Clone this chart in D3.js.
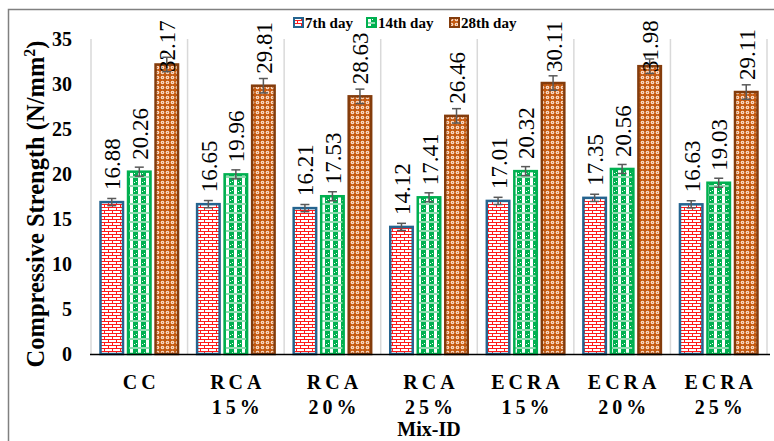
<!DOCTYPE html>
<html>
<head>
<meta charset="utf-8">
<script src="https://cdn.jsdelivr.net/npm/d3@7"></script>
<style>
body { margin:0; background:#fff; }
</style>
</head>
<body>
<div id="chart"></div>
<script>
// values
var categories = ["CC", "RCA 15%", "RCA 20%", "RCA 25%", "ECRA 15%", "ECRA 20%", "ECRA 25%"];
var seriesNames = ["7th day", "14th day", "28th day"];
var day7 = [16.88, 16.65, 16.21, 14.12, 17.01, 17.35, 16.63];
var day14 = [20.26, 19.96, 17.53, 17.41, 20.32, 20.56, 19.03];
var day28 = [32.17, 29.81, 28.63, 26.46, 30.11, 31.98, 29.11];
var err7 = [0.4, 0.4, 0.4, 0.4, 0.4, 0.4, 0.4];
var err14 = [0.5, 0.5, 0.5, 0.5, 0.5, 0.5, 0.5];
var err28 = [0.8, 0.8, 0.8, 0.8, 0.8, 0.8, 0.8];
var yTicks = [0, 5, 10, 15, 20, 25, 30, 35];

var FONT = "Liberation Serif";
var W = 774, H = 441;
var svg = d3.select("#chart").append("svg").attr("width", W).attr("height", H)
	.attr("font-family", FONT);
var defs = svg.append("defs");

// brick pattern (7th day)
var pBrick = defs.append("pattern").attr("id", "pBrick").attr("patternUnits", "userSpaceOnUse")
	.attr("width", 8).attr("height", 6);
pBrick.append("rect").attr("width", 8).attr("height", 6).attr("fill", "#fff");
pBrick.append("path").attr("d", "M0,0.5H8M0,3.5H8M0.5,0.5V3.5M4.5,3.5V6.5")
	.attr("stroke", "#ff1a1a").attr("stroke-width", 1).attr("fill", "none");

// plaid pattern (14th day)
var pPlaid = defs.append("pattern").attr("id", "pPlaid").attr("patternUnits", "userSpaceOnUse")
	.attr("width", 8).attr("height", 9);
pPlaid.append("rect").attr("width", 8).attr("height", 9).attr("fill", "#00b050");
pPlaid.append("rect").attr("x", 2).attr("y", 0).attr("width", 3).attr("height", 9).attr("fill", "#fff");
pPlaid.append("rect").attr("x", 0).attr("y", 5).attr("width", 8).attr("height", 2).attr("fill", "#8fdcb0");
pPlaid.append("rect").attr("x", 0).attr("y", 1).attr("width", 1).attr("height", 1).attr("fill", "#fff");
pPlaid.append("rect").attr("x", 6).attr("y", 2).attr("width", 1).attr("height", 1).attr("fill", "#fff");

// circle pattern (28th day)
var pDots = defs.append("pattern").attr("id", "pDots").attr("patternUnits", "userSpaceOnUse")
	.attr("width", 5).attr("height", 5);
pDots.append("rect").attr("width", 5).attr("height", 5).attr("fill", "#c55a11");
pDots.append("circle").attr("cx", 2.5).attr("cy", 2.5).attr("r", 1.8).attr("fill", "#fbe3d2");
pDots.append("circle").attr("cx", 2.5).attr("cy", 2.5).attr("r", 0.7).attr("fill", "#d9783a");

var fills = ["url(#pBrick)", "url(#pPlaid)", "url(#pDots)"];
var strokes = ["#25648f", "#00b050", "#843c0c"];
var values = [day7, day14, day28];
var errs = [err7, err14, err28];

// outer frame (top and left edges visible)
svg.append("path").attr("d", "M8.5,441V9.5H774").attr("fill", "none")
	.attr("stroke", "#808080").attr("stroke-width", 1.5);

var x0 = d3.scaleBand().domain(categories).range([91, 767]).paddingInner(0).paddingOuter(0);
var x1 = d3.scaleBand().domain(seriesNames).range([0, x0.bandwidth()]).paddingInner(0.11).paddingOuter(0.31);
var y = d3.scaleLinear().domain([0, 35]).range([354, 39]);

// vertical separators
var sep = categories.map(function(c){ return x0(c); }).concat([x0.range()[1]]);
svg.append("g").selectAll("line").data(sep).enter().append("line")
	.attr("x1", function(d){ return d; }).attr("x2", function(d){ return d; })
	.attr("y1", y(35)).attr("y2", y(0))
	.attr("stroke", "#d9d9d9").attr("stroke-width", 1.5);

// y axis
var yAxis = svg.append("g").attr("transform", "translate(91,0)")
	.call(d3.axisLeft(y).tickValues(yTicks).tickSize(0).tickPadding(19));
yAxis.attr("font-family", FONT);
yAxis.select(".domain").remove();
yAxis.selectAll("text").attr("font-size", 20)
	.attr("font-weight", "bold").attr("fill", "#000");

// bars
var rows = [];
categories.forEach(function(c, i){
	seriesNames.forEach(function(s, k){
		rows.push({cat:c, ser:s, k:k, v:values[k][i], e:errs[k][i]});
	});
});

var bw = x1.bandwidth();
svg.append("g").selectAll("rect").data(rows).enter().append("rect")
	.attr("x", function(d){ return x0(d.cat) + x1(d.ser) + 1; })
	.attr("y", function(d){ return y(d.v); })
	.attr("width", bw - 2)
	.attr("height", function(d){ return y(0) - y(d.v); })
	.attr("fill", function(d){ return fills[d.k]; })
	.attr("stroke", function(d){ return strokes[d.k]; })
	.attr("stroke-width", 2.5);

// error bars
var eg = svg.append("g").attr("stroke", "#595959").attr("stroke-width", 1.5);
rows.forEach(function(d){
	var cx = x0(d.cat) + x1(d.ser) + bw / 2;
	eg.append("line").attr("x1", cx).attr("x2", cx).attr("y1", y(d.v + d.e)).attr("y2", y(d.v - d.e));
	eg.append("line").attr("x1", cx - 4.5).attr("x2", cx + 4.5).attr("y1", y(d.v + d.e)).attr("y2", y(d.v + d.e));
	eg.append("line").attr("x1", cx - 4.5).attr("x2", cx + 4.5).attr("y1", y(d.v - d.e)).attr("y2", y(d.v - d.e));
});

// value labels (kept inside the plot like the original)
svg.append("g").selectAll("text").data(rows).enter().append("text")
	.attr("transform", function(d){
		var cx = x0(d.cat) + x1(d.ser) + bw / 2 + 1;
		var by = Math.max(y(d.v) - 12, 72);
		return "translate(" + cx + "," + by + ") rotate(-90)";
	})
	.attr("dominant-baseline", "central")
	.attr("font-size", 23).attr("fill", "#000")
	.text(function(d){ return d.v.toFixed(2); });

// x axis line
svg.append("line").attr("x1", 90).attr("x2", 770).attr("y1", y(0) + 0.5).attr("y2", y(0) + 0.5)
	.attr("stroke", "#000").attr("stroke-width", 1.5);

// category labels
var cl = svg.append("g").selectAll("text").data(categories).enter().append("text")
	.attr("y", 389)
	.attr("text-anchor", "middle")
	.attr("font-size", 20).attr("font-weight", "bold").attr("letter-spacing", 4);
cl.selectAll("tspan").data(function(d){ return d.split(" "); }).enter().append("tspan")
	.attr("x", function(){ var c = d3.select(this.parentNode).datum(); return x0(c) + x0.bandwidth() / 2 + 2; })
	.attr("dy", function(d, i){ return i === 0 ? 0 : 25; })
	.text(function(d){ return d; });

// axis titles
svg.append("text").attr("x", 429).attr("y", 436).attr("text-anchor", "middle")
	.attr("font-size", 20).attr("font-weight", "bold").text("Mix-ID");

var yt = svg.append("text").attr("transform", "translate(44,204) rotate(-90)")
	.attr("text-anchor", "middle").attr("font-size", 24.5).attr("font-weight", "bold");
yt.append("tspan").text("Compressive Strength (N/mm");
yt.append("tspan").attr("font-size", 16).attr("dy", -9).text("2");
yt.append("tspan").attr("dy", 9).text(")");

// legend
var legX = [293, 366, 449];
var lg = svg.append("g").selectAll("g").data(seriesNames).enter().append("g")
	.attr("transform", function(d, i){ return "translate(" + legX[i] + ",17)"; });
lg.append("rect").attr("x", 1).attr("y", 1).attr("width", 9).attr("height", 9)
	.attr("fill", function(d, i){ return fills[i]; })
	.attr("stroke", function(d, i){ return strokes[i]; }).attr("stroke-width", 2);
lg.append("text").attr("x", 12).attr("y", 10.5)
	.attr("font-size", 15).attr("font-weight", "bold").text(function(d){ return d; });
</script>
</body>
</html>
